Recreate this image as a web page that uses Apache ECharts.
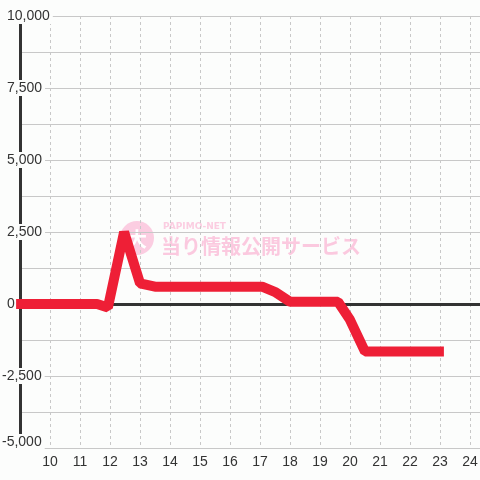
<!DOCTYPE html>
<html>
<head>
<meta charset="utf-8">
<script src="https://cdn.jsdelivr.net/npm/echarts@6/dist/echarts.min.js"></script>
<style>
html,body{margin:0;padding:0;background:#fcfdfc;}
#chart{width:480px;height:480px;}
</style>
</head>
<body>
<div id="chart"></div>
<script>
// Data
const hours  = [8.87, 11.57, 11.93, 12.47, 13.0, 13.5, 17.07, 17.53, 18.0, 19.6, 20.0, 20.5, 23.13];
const values = [0, 0, -120, 2500, 720, 600, 600, 400, 80, 80, -550, -1650, -1650];
const xLabelHours = [10, 11, 12, 13, 14, 15, 16, 17, 18, 19, 20, 21, 22, 23, 24];
const yLabelValues = [-5000, -2500, 0, 2500, 5000, 7500, 10000];
const watermarkTitle = 'PAPIMO-NET';
const watermarkText = '当り情報公開サービス';

const seriesData = hours.map((h, i) => [h, values[i]]);
const fontFam = '"Liberation Sans", Arial, sans-serif';

const chart = echarts.init(document.getElementById('chart'));
chart.setOption({
  backgroundColor: '#fcfdfc',
  animation: false,
  textStyle: { fontFamily: fontFam },
  grid: { left: 20, right: 0, top: 16, bottom: 32, containLabel: false, outerBoundsMode: 'none' },
  xAxis: {
    type: 'value',
    min: 9, max: 24.3333, interval: 1,
    axisLine: { show: false },
    axisTick: { show: false },
    axisLabel: {
      fontSize: 14, color: '#333', margin: 7, fontFamily: fontFam,
      formatter: v => (xLabelHours.indexOf(Math.round(v)) >= 0 && Math.abs(v - Math.round(v)) < 1e-6) ? String(Math.round(v)) : ''
    },
    splitLine: { show: true, lineStyle: { color: '#c8c8c8', type: [3, 3], width: 1 } }
  },
  yAxis: {
    type: 'value',
    min: -5000, max: 10000, interval: 1250,
    axisLine: { show: true, lineStyle: { color: '#333', width: 3 } },
    axisTick: { show: false },
    axisLabel: {
      fontSize: 14, color: '#333', margin: 18, align: 'left', fontFamily: fontFam,
      backgroundColor: '#fcfdfc', padding: [1, 3, 1, 0],
      formatter: v => {
        if (yLabelValues.indexOf(v) < 0) return '';
        const s = v.toLocaleString('en-US');
        if (v === -5000) return '{c|' + s + '}';
        return v < 0 ? '{n|' + s + '}' : '{p|' + s + '}';
      },
      rich: {
        p: { fontSize: 14, color: '#333', padding: [0, 0, 0, 5], fontFamily: fontFam },
        n: { fontSize: 14, color: '#333', fontFamily: fontFam },
        c: { fontSize: 14, color: '#333', padding: [0, 0, 12, 0], fontFamily: fontFam }
      }
    },
    splitLine: { show: true, lineStyle: { color: '#c8c8c8', width: 1 } }
  },
  graphic: [
    { type: 'circle', z: 0, shape: { cx: 137, cy: 238, r: 17 }, style: { fill: '#fbcde1' }, silent: true },
    { type: 'text', z: 0, x: 137, y: 239, style: { text: '大', fill: '#fff', font: 'bold 20px "Noto Sans CJK JP"', align: 'center', verticalAlign: 'middle' }, silent: true },
    { type: 'text', z: 0, x: 163, y: 226.5, style: { text: watermarkTitle, fill: '#fbcde1', font: 'bold 9px "DejaVu Sans"', align: 'left', verticalAlign: 'middle' }, silent: true },
    { type: 'text', z: 0, x: 161, y: 246, style: { text: watermarkText, fill: '#fbc9df', font: 'bold 20px "Noto Sans CJK JP"', align: 'left', verticalAlign: 'middle' }, silent: true }
  ],
  series: [
    {
      type: 'line', data: [], z: 1, silent: true,
      markLine: {
        silent: true, symbol: 'none', animation: false,
        label: { show: false },
        lineStyle: { color: '#333', width: 3, type: 'solid' },
        data: [{ yAxis: 0 }]
      }
    },
    {
      type: 'line', data: seriesData, z: 5, clip: false,
      showSymbol: false, symbol: 'none',
      lineStyle: { color: '#ee1f36', width: 10, cap: 'butt', join: 'bevel' }
    }
  ]
});
</script>
</body>
</html>
